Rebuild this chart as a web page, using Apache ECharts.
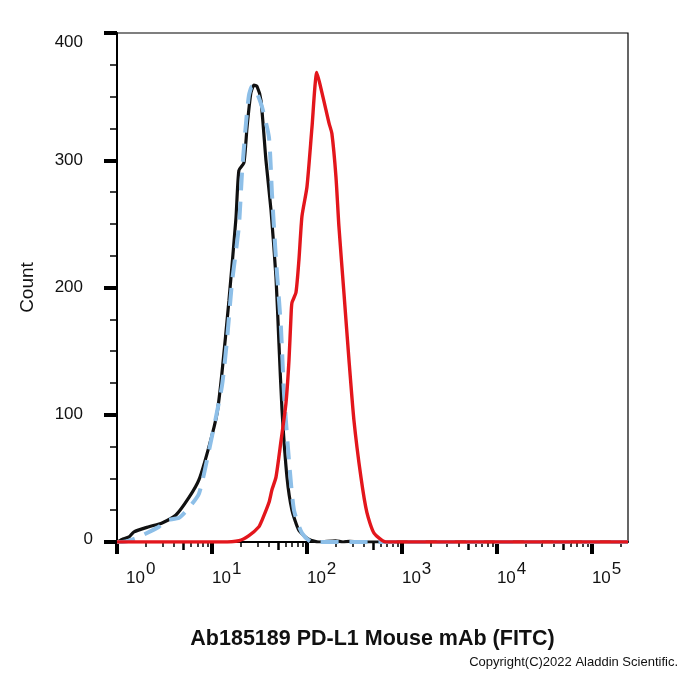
<!DOCTYPE html>
<html>
<head>
<meta charset="utf-8">
<title>Ab185189 PD-L1 Mouse mAb (FITC)</title>
<script src="https://cdn.jsdelivr.net/npm/echarts@6/dist/echarts.min.js"></script>
<style>
	html, body { margin: 0; padding: 0; background: #fff; }
	#container { width: 700px; height: 700px; }
</style>
</head>
<body>
<div id="container"></div>
<script>
	//黑色曲线 (空白对照)
	var blankX = [1, 1.13, 1.34, 1.51, 2.17, 2.98, 4.15, 5.73, 7.3, 9.3, 11.3, 12.7, 15.1, 17.9, 19.2, 21.7, 23.4, 25.7, 27.7, 29.8, 32.8, 37.0, 41.8, 47.2, 50.7, 54.6, 61.6, 69.5, 82.4, 105, 134, 200, 240, 280, 400, 240000];
	var blankY = [0, 2, 4, 8, 12, 15, 21, 35, 49, 75, 101, 132, 190, 255, 292, 298, 326, 353, 359, 358, 347, 300, 261, 208, 156, 104, 51, 25, 9, 2, 0, 1, 0, 0.5, 0, 0];

	//蓝色虚线 (同型对照)
	var isotypeX = [1, 1.13, 1.58, 2.77, 3.28, 4.5, 5.73, 7.3, 9.3, 12.7, 14.4, 16.2, 19.2, 20.7, 22.8, 24.5, 26.4, 29, 33.6, 39.8, 42.8, 47.2, 53.2, 57.3, 64.7, 73, 88.6, 113, 240000];
	var isotypeY = [0, 0, 3, 12, 17, 19, 27, 38, 72, 122, 159, 203, 248, 290, 329, 351, 358, 355, 342, 318, 274, 222, 169, 117, 64, 25, 7, 0, 0];

	//红色曲线 (PD-L1)
	var pdl1X = [1, 12.7, 19.2, 24.5, 31.2, 33.6, 39.8, 42.8, 47.2, 53.2, 60.1, 64.7, 67.9, 69.5, 76.6, 82.4, 88.6, 100, 113, 127, 144, 158, 171, 183, 202, 217, 245, 277, 312, 370, 428, 508, 679, 240000];
	var pdl1Y = [0, 0, 1, 5, 12, 17, 31, 41, 51, 79, 109, 143, 177, 188, 196, 222, 256, 279, 326, 369, 353, 340, 329, 321, 287, 248, 196, 143, 96, 51, 23, 7, 0, 0];

	//坐标刻度
	var majorTicks = [1, 10, 100, 1000, 10000, 100000];
	var midTicks = [5, 50, 500, 5000, 50000];
	var minorTicks = [2, 3, 4, 6, 7, 8, 9, 20, 30, 40, 60, 70, 80, 90, 200, 300, 400, 600, 700, 800, 900,
		2000, 3000, 4000, 6000, 7000, 8000, 9000, 20000, 30000, 40000, 60000, 70000, 80000, 90000, 200000];

	function pairs(xs, ys) {
		var out = [];
		for(var i = 0; i < xs.length; i++) {
			out.push([xs[i], ys[i]]);
		}
		return out;
	}

	var font = 'Liberation Sans, Arial, sans-serif';
	var xMin = 1, xMax = 240000;

	// 隐藏的x轴只画刻度
	function tickAxis(values, len, width) {
		return {
			type: 'log',
			logBase: 10,
			min: xMin,
			max: xMax,
			gridIndex: 0,
			position: 'bottom',
			axisLine: { show: false },
			axisLabel: { show: false },
			splitLine: { show: false },
			axisTick: {
				show: true,
				customValues: values,
				length: len,
				lineStyle: { color: '#000', width: width }
			}
		};
	}

	var dom = document.getElementById('container');
	var myChart = echarts.init(dom, null, { renderer: 'canvas' });

	var option = {
		animation: false,
		backgroundColor: '#fff',
		textStyle: { fontFamily: font },
		title: {
			text: 'Copyright(C)2022 Aladdin Scientific.',
			right: 22,
			top: 656,
			padding: 0,
			textStyle: { fontSize: 13, fontWeight: 'normal', color: '#111', fontFamily: font }
		},
		grid: {
			left: 117,
			right: 72,
			top: 33,
			bottom: 158,
			show: true,
			borderColor: '#000',
			borderWidth: 1.2,
			backgroundColor: '#fff'
		},
		xAxis: [{
			type: 'log',
			logBase: 10,
			min: xMin,
			max: xMax,
			position: 'bottom',
			name: 'Ab185189 PD-L1 Mouse mAb (FITC)',
			nameLocation: 'middle',
			nameGap: 86,
			nameTextStyle: { fontSize: 21.5, fontWeight: 'bold', color: '#111', fontFamily: font },
			axisLine: { lineStyle: { color: '#000', width: 2 } },
			splitLine: { show: false },
			axisTick: {
				customValues: majorTicks,
				length: 12,
				lineStyle: { color: '#000', width: 4 }
			},
			axisLabel: {
				customValues: majorTicks,
				align: 'left',
				margin: 28,
				formatter: function(v) {
					var e = Math.round(Math.log10(v));
					return (e === 0 ? '{f|10}' : '{b|10}') + '{s|' + e + '}';
				},
				rich: {
					b: { fontSize: 17, color: '#111', lineHeight: 17, verticalAlign: 'bottom', fontFamily: font },
					f: { fontSize: 17, color: '#111', lineHeight: 17, verticalAlign: 'bottom', padding: [0, 0, 0, 9], fontFamily: font },
					s: { fontSize: 17, color: '#111', lineHeight: 17, verticalAlign: 'bottom', padding: [0, 0, 9, 1], fontFamily: font }
				}
			}
		},
			tickAxis(midTicks, 8, 2.5),
			tickAxis(minorTicks, 5, 1.5)
		],
		yAxis: {
			type: 'value',
			min: 0,
			max: 400,
			interval: 100,
			name: 'Count',
			nameLocation: 'middle',
			nameGap: 80,
			nameTextStyle: { fontSize: 19, color: '#111', fontFamily: font },
			axisLine: { show: true, lineStyle: { color: '#000', width: 2 } },
			splitLine: { show: false },
			axisTick: {
				show: true,
				length: 13,
				lineStyle: { color: '#000', width: 4 }
			},
			minorTick: {
				show: true,
				splitNumber: 4,
				length: 7,
				lineStyle: { color: '#000', width: 1.5 }
			},
			axisLabel: {
				margin: 24,
				formatter: function(v) {
					if(v === 0) return '{z|0}';
					if(v === 400) return '{t|400}';
					return '{n|' + v + '}';
				},
				rich: {
					z: { fontSize: 17, color: '#111', fontFamily: font, padding: [0, 0, 6, 0] },
					n: { fontSize: 17, color: '#111', fontFamily: font, padding: [0, 10, 0, 0] },
					t: { fontSize: 17, color: '#111', fontFamily: font, padding: [18, 10, 0, 0] }
				}
			}
		},
		series: [{
			name: 'blank',
			type: 'line',
			xAxisIndex: 0,
			showSymbol: false,
			smooth: 0.2,
			lineStyle: { color: '#111', width: 3.2 },
			data: pairs(blankX, blankY),
			z: 2
		}, {
			name: 'isotype',
			type: 'line',
			xAxisIndex: 0,
			showSymbol: false,
			smooth: 0.2,
			lineStyle: { color: '#8dbfe8', width: 4, type: [18, 11] },
			data: pairs(isotypeX, isotypeY),
			z: 3
		}, {
			name: 'PD-L1',
			type: 'line',
			xAxisIndex: 0,
			showSymbol: false,
			smooth: 0.2,
			lineStyle: { color: '#e3161c', width: 3.4 },
			data: pairs(pdl1X, pdl1Y),
			z: 4
		}]
	};

	if(option && typeof option === "object") {
		myChart.setOption(option, true);
	}
</script>
</body>
</html>
